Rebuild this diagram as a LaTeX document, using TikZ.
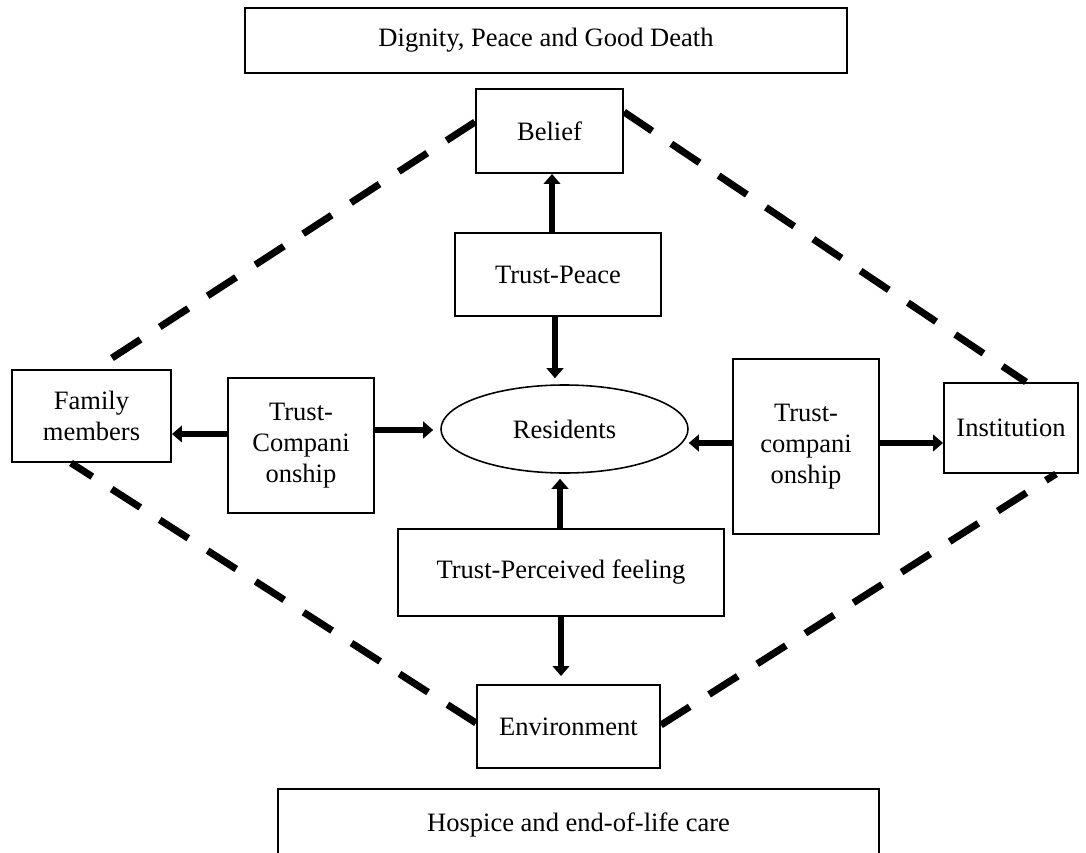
\documentclass[tikz,border=0pt]{standalone}
\usepackage{fontspec}
\setmainfont{Liberation Serif}
\usepackage{tikz}
\usetikzlibrary{shapes.geometric, arrows.meta, positioning}

\begin{document}
\begin{tikzpicture}[
        box/.style={rectangle, draw, line width=1.1pt, inner sep=0pt, align=center, font=\fontsize{15.1}{17.8}\selectfont},
        arr/.style={line width=3.3pt, -{Triangle[width=0.33cm, length=0.2cm]}},
        link/.style={line width=4pt, dash pattern=on 0.68cm off 0.46cm}
    ]
        \useasboundingbox (0,0) rectangle (21.72,-17.04);
        \node[box, minimum width=12.04cm, minimum height=1.3cm] (Dignity) at (10.92,-0.81) {Dignity, Peace and Good Death};
        \node[box, minimum width=2.94cm, minimum height=1.68cm] (Belief) at (10.99,-2.62) {Belief};
        \node[box, minimum width=4.12cm, minimum height=1.66cm] (TrustPeace) at (11.16,-5.49) {Trust-Peace};
        \node[box, ellipse, line width=0.9pt, minimum width=4.94cm, minimum height=1.76cm] (Residents) at (11.29,-8.58) {Residents};
        \node[box, minimum width=3.18cm, minimum height=1.84cm] (Family) at (1.83,-8.32) {Family\\members};
        \node[box, minimum width=2.92cm, minimum height=2.7cm] (TrustCompL) at (6.02,-8.91) {Trust-\\Compani\\onship};
        \node[box, minimum width=2.92cm, minimum height=3.5cm] (TrustCompR) at (16.12,-8.93) {Trust-\\compani\\onship};
        \node[box, minimum width=2.68cm, minimum height=1.8cm] (Institution) at (20.22,-8.56) {Institution};
        \node[box, minimum width=6.52cm, minimum height=1.74cm] (TrustFeeling) at (11.22,-11.45) {Trust-Perceived feeling};
        \node[box, minimum width=3.66cm, minimum height=1.66cm] (Environment) at (11.37,-14.53) {Environment};
        \node[box, minimum width=12.02cm, minimum height=1.44cm] (Hospice) at (11.57,-16.5) {Hospice and end-of-life care};

        % trust arrows
        \draw[arr] ([xshift=-0.12cm] TrustPeace.north) -- ([xshift=0.05cm] Belief.south);
        \draw[arr, shorten >=0.12cm] ([xshift=-0.06cm] TrustPeace.south) -- ([xshift=-0.19cm] Residents.north);
        \draw[arr] ([yshift=0.23cm] TrustCompL.west) -- ([yshift=-0.36cm] Family.east);
        \draw[arr, shorten >=0.14cm] ([yshift=0.31cm] TrustCompL.east) -- ([yshift=-0.02cm] Residents.west);
        \draw[arr] ([yshift=0.07cm] TrustCompR.west) -- ([yshift=-0.28cm] Residents.east);
        \draw[arr] ([yshift=0.07cm] TrustCompR.east) -- ([yshift=-0.3cm] Institution.west);
        \draw[arr, shorten >=0.1cm] ([xshift=-0.02cm] TrustFeeling.north) -- ([xshift=-0.09cm] Residents.south);
        \draw[arr, shorten >=0.16cm] (TrustFeeling.south) -- ([xshift=-0.15cm] Environment.north);

        % dashed diamond
        \draw[link] ([yshift=0.18cm] Belief.west) -- ([xshift=0.07cm] Family.north);
        \draw[link] ([yshift=0.38cm] Belief.east) -- ([xshift=0.3cm] Institution.north);
        \draw[link] ([yshift=0.07cm] Environment.west) -- ([xshift=-0.41cm] Family.south);
        \draw[link] ([yshift=0.03cm] Environment.east) -- ([xshift=0.9cm] Institution.south);
    \end{tikzpicture}
\end{document}
